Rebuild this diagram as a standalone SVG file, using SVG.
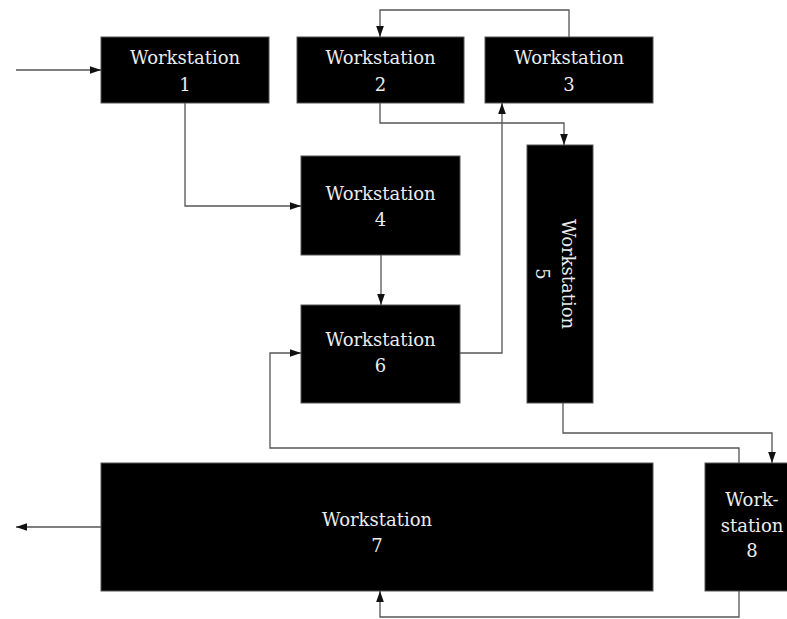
<svg xmlns="http://www.w3.org/2000/svg" width="787" height="619" viewBox="0 0 787 619">
<style>
.box{fill:#000;stroke:#555;stroke-width:1}
.lbl{font-family:'DejaVu Serif','Liberation Serif',serif;font-size:18px;fill:#ececec;text-anchor:middle}
.con{fill:none;stroke:#555;stroke-width:1.3}
</style>
<defs>
<marker id="ah" viewBox="0 0 10 10" refX="10" refY="5" markerWidth="11" markerHeight="11" markerUnits="userSpaceOnUse" orient="auto">
<path d="M0,1.5 L10,5 L0,8.5 Z" fill="#111"/>
</marker>
</defs>
<g id="ws1"><rect class="box" x="101" y="37" width="168" height="66"/><text class="lbl" font-family="DejaVu Serif, serif" x="185" y="64">Workstation</text><text class="lbl" font-family="DejaVu Serif, serif" x="185" y="91">1</text></g>
<g id="ws2"><rect class="box" x="297" y="37" width="167" height="66"/><text class="lbl" font-family="DejaVu Serif, serif" x="380.5" y="64">Workstation</text><text class="lbl" font-family="DejaVu Serif, serif" x="380.5" y="91">2</text></g>
<g id="ws3"><rect class="box" x="485" y="37" width="168" height="66"/><text class="lbl" font-family="DejaVu Serif, serif" x="569" y="64">Workstation</text><text class="lbl" font-family="DejaVu Serif, serif" x="569" y="91">3</text></g>
<g id="ws4"><rect class="box" x="301" y="156" width="159" height="99"/><text class="lbl" font-family="DejaVu Serif, serif" x="380.5" y="200">Workstation</text><text class="lbl" font-family="DejaVu Serif, serif" x="380.5" y="226">4</text></g>
<g id="ws5"><rect class="box" x="527" y="145" width="66" height="258"/><g transform="translate(562,274) rotate(90)"><text class="lbl" font-family="DejaVu Serif, serif" x="0" y="0">Workstation</text><text class="lbl" font-family="DejaVu Serif, serif" x="0" y="26">5</text></g></g>
<g id="ws6"><rect class="box" x="301" y="305" width="159" height="98"/><text class="lbl" font-family="DejaVu Serif, serif" x="380.5" y="346">Workstation</text><text class="lbl" font-family="DejaVu Serif, serif" x="380.5" y="372">6</text></g>
<g id="ws7"><rect class="box" x="101" y="463" width="552" height="128"/><text class="lbl" font-family="DejaVu Serif, serif" x="377" y="526">Workstation</text><text class="lbl" font-family="DejaVu Serif, serif" x="377" y="552">7</text></g>
<g id="ws8"><rect class="box" x="705" y="463" width="100" height="128"/><text class="lbl" font-family="DejaVu Serif, serif" x="752" y="506">Work-</text><text class="lbl" font-family="DejaVu Serif, serif" x="752" y="532">station</text><text class="lbl" font-family="DejaVu Serif, serif" x="752" y="557">8</text></g>
<g id="connectors">
<path class="con" d="M16,70 H101" marker-end="url(#ah)"/>
<path class="con" d="M569,37 V10 H380 V37" marker-end="url(#ah)"/>
<path class="con" d="M380,103 V123 H564 V145" marker-end="url(#ah)"/>
<path class="con" d="M185,103 V206 H301" marker-end="url(#ah)"/>
<path class="con" d="M381,255 V305" marker-end="url(#ah)"/>
<path class="con" d="M460,353 H502 V103" marker-end="url(#ah)"/>
<path class="con" d="M563,403 V433 H772 V463" marker-end="url(#ah)"/>
<path class="con" d="M739,463 V448 H270 V353 H301" marker-end="url(#ah)"/>
<path class="con" d="M739,591 V617 H380 V591" marker-end="url(#ah)"/>
<path class="con" d="M101,527 H16" marker-end="url(#ah)"/>
</g>
</svg>
